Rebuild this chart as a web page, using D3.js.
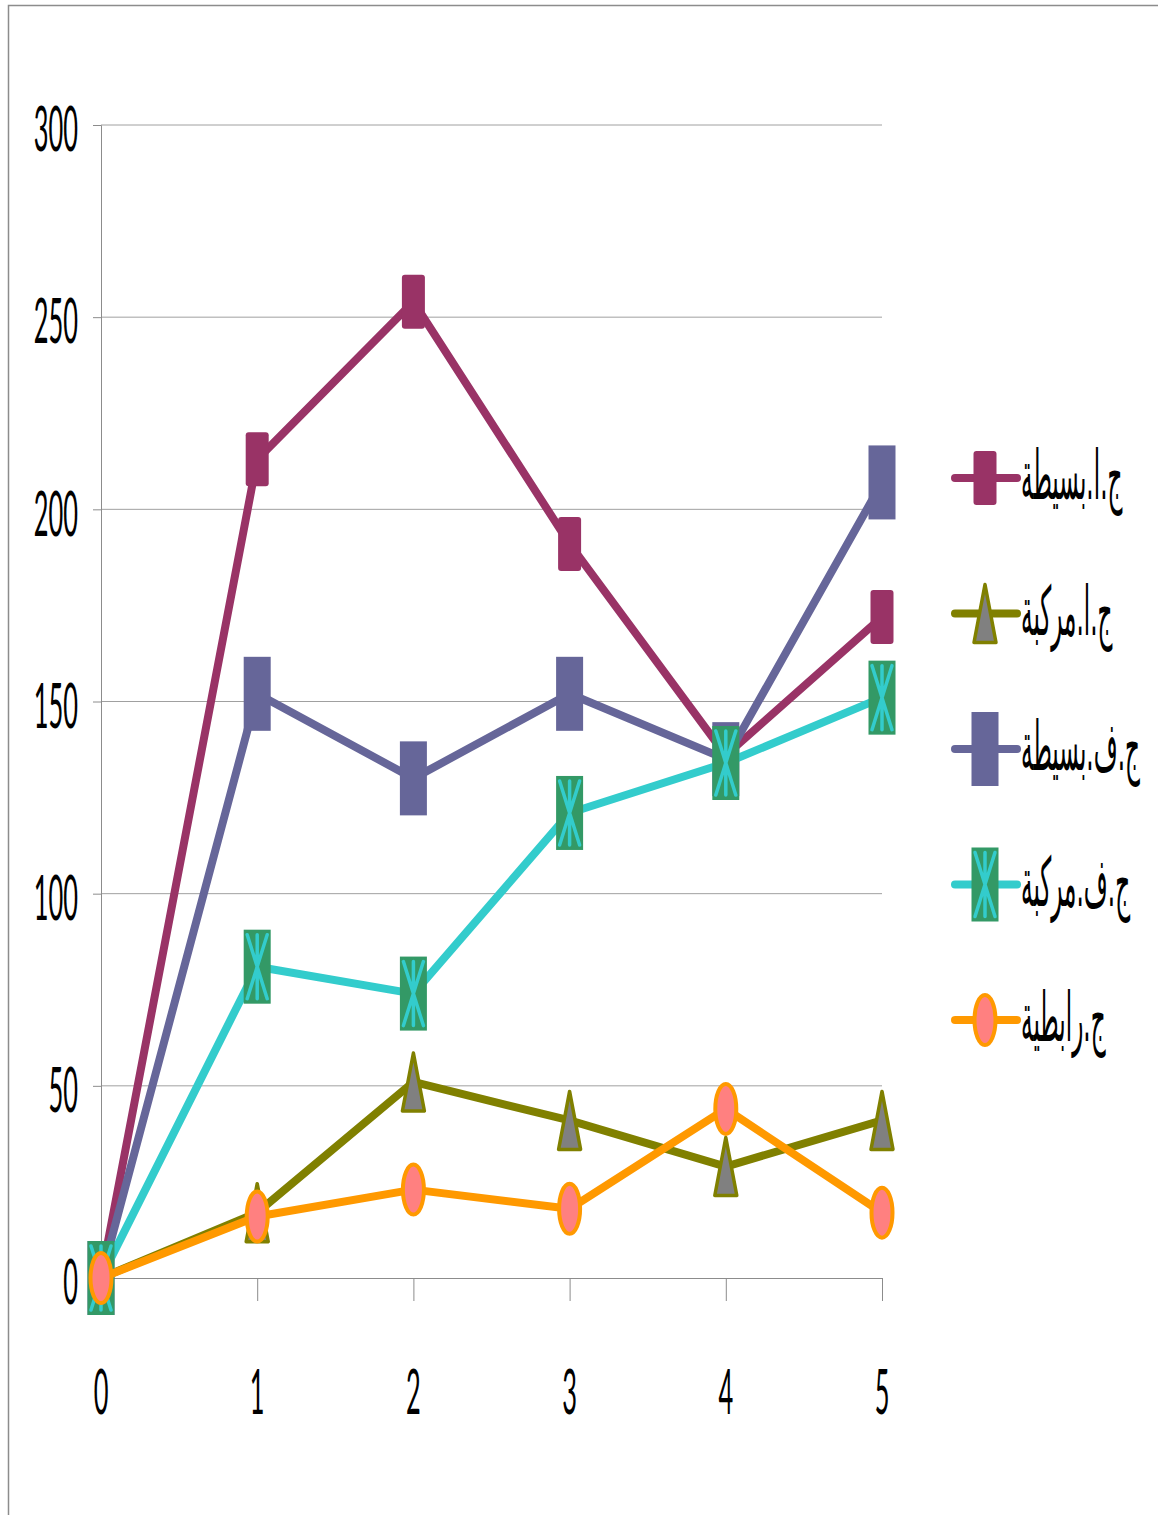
<!DOCTYPE html>
<html>
<head>
<meta charset="utf-8">
<script src="https://cdn.jsdelivr.net/npm/d3@7"></script>
<style>
  html, body { margin: 0; padding: 0; background: #fff; }
  svg { display: block; }
</style>
</head>
<body>
<div id="chart"></div>
<script>
// data
const xValues = [0, 1, 2, 3, 4, 5];
const yTicks = [0, 50, 100, 150, 200, 250, 300];

const seriesNames = ["ج.ا.بسيطة", "ج.ا.مركبة", "ج.ف.بسيطة", "ج.ف.مركبة", "ج.رابطية"];
const simpleA   = [0, 213, 254, 191, 136, 172];
const compoundA = [0, 17, 51, 41, 29, 41];
const simpleF   = [0, 152, 130, 152, 135, 207];
const compoundF = [0, 81, 74, 121, 134, 151];
const linkage   = [0, 16, 23, 18, 44, 17];

const seriesValues = [simpleA, compoundA, simpleF, compoundF, linkage];
const lineColors   = ["#993366", "#808000", "#666699", "#33CCCC", "#FF9900"];
const markerKinds  = ["roundRect", "triangle", "rect", "star", "ellipse"];

const W = 1158, H = 1515;
const margin = {top: 125, left: 101, right: 276, bottom: 237};
const textScale = 0.41;

const svg = d3.select("#chart")
  .append("svg")
  .attr("width", W)
  .attr("height", H);

// outer chart frame (right and bottom edges fall outside the picture)
svg.append("rect")
  .attr("x", 8.5).attr("y", 5.5)
  .attr("width", W + 20).attr("height", H + 20)
  .attr("fill", "none")
  .attr("stroke", "#8c8c8c")
  .attr("stroke-width", 1.5);

const x = d3.scaleLinear()
  .domain([0, 5])
  .range([margin.left, W - margin.right]);

const y = d3.scaleLinear()
  .domain([0, 300])
  .range([H - margin.bottom, margin.top]);

// gridlines
svg.append("g")
  .selectAll("line")
  .data(yTicks.filter(d => d > 0))
  .join("line")
  .attr("x1", x(0)).attr("x2", x(5))
  .attr("y1", d => y(d)).attr("y2", d => y(d))
  .attr("stroke", "#a0a0a0")
  .attr("stroke-width", 1);

// y axis
const yAxis = svg.append("g")
  .attr("transform", `translate(${x(0)},0)`)
  .call(d3.axisLeft(y).tickValues(yTicks).tickSize(8).tickFormat(""));
yAxis.select(".domain").attr("stroke", "#8c8c8c");
yAxis.selectAll(".tick line").attr("stroke", "#8c8c8c");

// x axis
const xAxis = svg.append("g")
  .attr("transform", `translate(0,${y(0)})`)
  .call(d3.axisBottom(x).tickValues(xValues).tickSize(23).tickSizeOuter(0).tickFormat(""));
xAxis.select(".domain").attr("stroke", "#8c8c8c");
xAxis.selectAll(".tick line").attr("stroke", "#8c8c8c");

// condensed text helper
function label(sel, tx, ty, txt, anchor, size) {
  sel.append("text")
    .attr("transform", `translate(${tx},${ty}) scale(${textScale},1)`)
    .attr("text-anchor", anchor)
    .attr("dominant-baseline", "central")
    .attr("font-family", "Lato, 'Liberation Sans', sans-serif")
    .attr("font-size", size)
    .attr("fill", "#000")
    .text(txt);
}

const yLabels = svg.append("g");
yTicks.forEach(d => label(yLabels, 78, y(d) + 2, d, "end", 62));

const xLabels = svg.append("g");
xValues.forEach(d => label(xLabels, x(d), 1390, d, "middle", 62));

// markers
function drawMarker(g, kind, cx, cy, color) {
  if (kind === "roundRect") {
    g.append("rect")
      .attr("x", cx - 11.5).attr("y", cy - 27)
      .attr("width", 23).attr("height", 54)
      .attr("rx", 3)
      .attr("fill", color);
  } else if (kind === "rect") {
    g.append("rect")
      .attr("x", cx - 13.5).attr("y", cy - 37)
      .attr("width", 27).attr("height", 74)
      .attr("fill", color);
  } else if (kind === "triangle") {
    g.append("path")
      .attr("d", `M${cx},${cy - 29}L${cx + 11},${cy + 29}L${cx - 11},${cy + 29}Z`)
      .attr("fill", "#808080")
      .attr("stroke", color)
      .attr("stroke-width", 3.5)
      .attr("stroke-linejoin", "round");
  } else if (kind === "star") {
    g.append("rect")
      .attr("x", cx - 13.5).attr("y", cy - 37)
      .attr("width", 27).attr("height", 74)
      .attr("fill", "#339966");
    g.append("path")
      .attr("d", `M${cx - 10},${cy - 32}L${cx + 10},${cy + 32}M${cx + 10},${cy - 32}L${cx - 10},${cy + 32}M${cx},${cy - 32}L${cx},${cy + 32}`)
      .attr("stroke", color)
      .attr("stroke-width", 3.5)
      .attr("stroke-linecap", "round");
  } else if (kind === "ellipse") {
    g.append("ellipse")
      .attr("cx", cx).attr("cy", cy)
      .attr("rx", 10.5).attr("ry", 25)
      .attr("fill", "#FF8080")
      .attr("stroke", color)
      .attr("stroke-width", 4);
  }
}

const line = d3.line()
  .x((d, i) => x(xValues[i]))
  .y(d => y(d));

seriesValues.forEach((vals, s) => {
  const g = svg.append("g");
  g.append("path")
    .datum(vals)
    .attr("d", line)
    .attr("fill", "none")
    .attr("stroke", lineColors[s])
    .attr("stroke-width", 8)
    .attr("stroke-linejoin", "round")
    .attr("stroke-linecap", "round");
  vals.forEach((v, i) => drawMarker(g, markerKinds[s], x(xValues[i]), y(v), lineColors[s]));
});

// legend
const legend = svg.append("g");
seriesNames.forEach((name, s) => {
  const ly = 478 + s * 135.5;
  const g = legend.append("g");
  g.append("line")
    .attr("x1", 955).attr("x2", 1017)
    .attr("y1", ly).attr("y2", ly)
    .attr("stroke", lineColors[s])
    .attr("stroke-width", 8)
    .attr("stroke-linecap", "round");
  drawMarker(g, markerKinds[s], 985, ly, lineColors[s]);
  g.append("text")
    .attr("transform", `translate(1021,${ly - 2}) scale(0.34,1)`)
    .attr("text-anchor", "end")
    .attr("direction", "rtl")
    .attr("dominant-baseline", "central")
    .attr("font-family", "'DejaVu Sans', 'Noto Sans', sans-serif")
    .attr("font-size", 68)
    .attr("fill", "#000")
    .text(name);
});
</script>
</body>
</html>
